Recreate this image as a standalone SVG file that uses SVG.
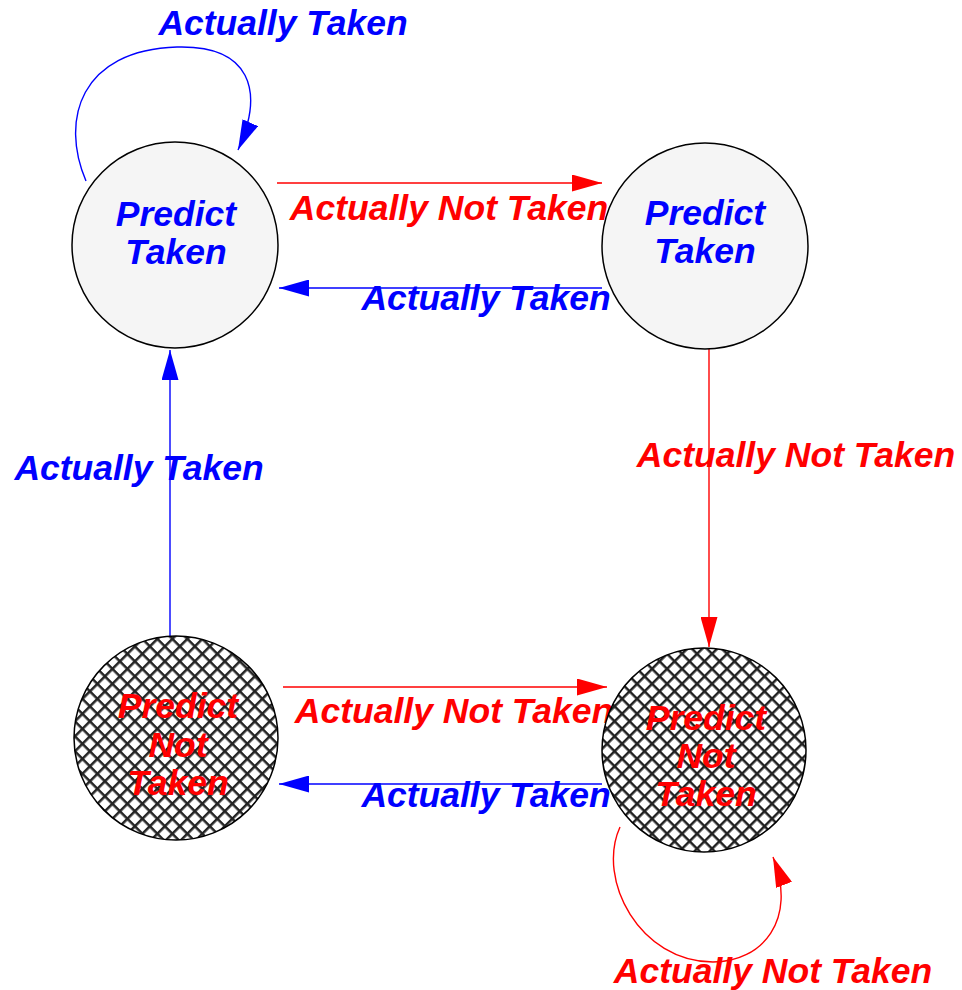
<svg xmlns="http://www.w3.org/2000/svg" width="962" height="990" viewBox="0 0 962 990">
<style>
text{font-family:"Liberation Sans",Arial,sans-serif;font-weight:bold;font-style:italic;font-size:35.5px;text-anchor:middle}
.b{fill:#0000ff}
.r{fill:#ff0000}
.st{fill:#f5f5f5;stroke:#000;stroke-width:1.5}
.hs{fill:url(#hatch);stroke:#000;stroke-width:1.5}
.eb{fill:none;stroke:#0000ff;stroke-width:1.4}
.er{fill:none;stroke:#ff0000;stroke-width:1.4}
</style>
<defs>
<pattern id="hatch" patternUnits="userSpaceOnUse" width="10.6" height="10.6" patternTransform="rotate(45)">
<rect width="10.6" height="10.6" fill="#fff"/>
<rect x="0" y="0" width="2.5" height="10.6" fill="#222"/>
<rect x="0" y="0" width="10.6" height="2.5" fill="#222"/>
</pattern>
<marker id="ab" markerUnits="userSpaceOnUse" markerWidth="30" markerHeight="17" viewBox="0 0 30 17" refX="30" refY="8.5" orient="auto">
<path d="M0,0L30,8.5L0,17z" fill="#0000ff"/>
</marker>
<marker id="ar" markerUnits="userSpaceOnUse" markerWidth="30" markerHeight="17" viewBox="0 0 30 17" refX="30" refY="8.5" orient="auto">
<path d="M0,0L30,8.5L0,17z" fill="#ff0000"/>
</marker>
</defs>
<rect width="962" height="990" fill="#fff"/>
<g id="connectors">
<path class="eb" marker-end="url(#ab)" d="M86,181C60,120 80,50 177,47C250,45 265,90 238,150"/>
<path class="er" marker-end="url(#ar)" d="M277,183H602"/>
<path class="eb" marker-end="url(#ab)" d="M602,288H279"/>
<path class="eb" marker-end="url(#ab)" d="M170,636V350"/>
<path class="er" marker-end="url(#ar)" d="M709,349V647"/>
<path class="er" marker-end="url(#ar)" d="M283,687H607"/>
<path class="eb" marker-end="url(#ab)" d="M602,784H279"/>
<path class="er" marker-end="url(#ar)" d="M620,827C596,880 640,962 713,962C762,962 798,920 773,857"/>
<text class="b" x="283" y="35">Actually Taken</text>
<text class="r" x="449" y="220">Actually Not Taken</text>
<text class="b" x="486" y="310">Actually Taken</text>
<text class="b" x="139" y="480">Actually Taken</text>
<text class="r" x="796" y="467">Actually Not Taken</text>
<text class="r" x="454" y="723">Actually Not Taken</text>
<text class="b" x="486" y="807">Actually Taken</text>
<text class="r" x="773" y="983">Actually Not Taken</text>
</g>
<g id="s1">
<circle class="st" cx="175" cy="245" r="103"/>
<text class="b" x="176" y="226">Predict</text>
<text class="b" x="176" y="264">Taken</text>
</g>
<g id="s2">
<circle class="st" cx="705" cy="246" r="103"/>
<text class="b" x="705" y="225">Predict</text>
<text class="b" x="705" y="263">Taken</text>
</g>
<g id="s3">
<circle class="hs" cx="176" cy="738" r="102"/>
<text class="r" x="178" y="718">Predict</text>
<text class="r" x="178" y="757">Not</text>
<text class="r" x="178" y="795">Taken</text>
</g>
<g id="s4">
<circle class="hs" cx="704" cy="750" r="102"/>
<text class="r" x="706" y="730">Predict</text>
<text class="r" x="706" y="768">Not</text>
<text class="r" x="706" y="806">Taken</text>
</g>
</svg>
